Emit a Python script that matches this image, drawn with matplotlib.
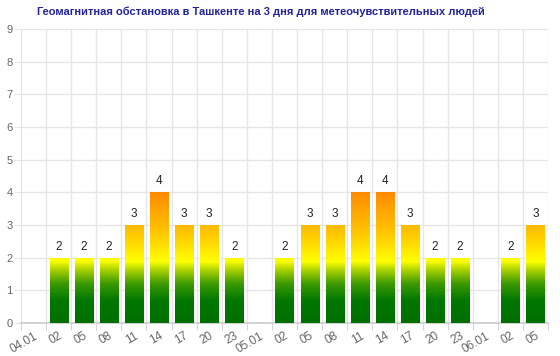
import matplotlib
matplotlib.use("Agg")
import matplotlib.pyplot as plt
import numpy as np
from matplotlib.colors import LinearSegmentedColormap, Normalize
from matplotlib.patches import Rectangle

labels = ["04.01", "02", "05", "08", "11", "14", "17", "20", "23",
          "05.01", "02", "05", "08", "11", "14", "17", "20", "23",
          "06.01", "02", "05"]
values = [None, 2, 2, 2, 3, 4, 3, 3, 2,
          None, 2, 3, 3, 4, 4, 3, 2, 2,
          None, 2, 3]
title = "Геомагнитная обстановка в Ташкенте на 3 дня для метеочувствительных людей"

plt.rcParams['font.family'] = ['Liberation Sans', 'DejaVu Sans']

fig = plt.figure(figsize=(5.6, 3.56), dpi=100)
ax = fig.add_axes([0.0375, 0.0927, 0.9411, 0.8258])

n = len(labels)
ax.set_xlim(-0.5, n - 0.5)
ax.set_ylim(0, 9)

stops = [(0.0, "#006f00"), (0.17, "#007800"), (0.30, "#3d9a00"),
         (0.40, "#a6d000"), (0.47, "#ffff00"), (0.70, "#ffc400"), (1.0, "#ff8a00")]
cmap = LinearSegmentedColormap.from_list("geo", stops)
norm = Normalize(0, 4)

grad = np.linspace(0, 4, 256).reshape(-1, 1)
bw = 0.72
for i, v in enumerate(values):
    if v is None:
        continue
    x0 = i - bw / 2
    rect = Rectangle((x0, 0), bw, v, facecolor="none", edgecolor="none", zorder=3)
    ax.add_patch(rect)
    im = ax.imshow(grad, cmap=cmap, norm=norm, origin="lower", aspect="auto",
                   extent=[x0, x0 + bw, 0, 4], zorder=3, interpolation="bilinear")
    im.set_clip_path(rect)
    ax.text(i, v + 0.15, str(v), ha="center", va="bottom", fontsize=8.5,
            color="#222222", zorder=4)

ax.set_xlim(-0.5, n - 0.5)
ax.set_ylim(0, 9)

ax.set_yticks(range(0, 10))
ax.tick_params(axis="y", length=5, color="#e6e6e6", labelsize=8, labelcolor="#666666", pad=1)
ax.grid(axis="y", color="#e6e6e6", linewidth=1, zorder=0)

ax.set_xticks(range(n))
ax.set_xticklabels(labels, rotation=30, ha="right", rotation_mode="anchor",
                   fontsize=8.5, color="#666666")
ax.tick_params(axis="x", length=0, pad=5)
ax.set_xticks(np.arange(-0.5, n, 1), minor=True)
ax.tick_params(axis="x", which="minor", length=5, color="#cccccc")
ax.grid(axis="x", which="minor", color="#e6e6e6", linewidth=1, zorder=0)
ax.set_axisbelow(True)

for s in ["top", "right", "left"]:
    ax.spines[s].set_visible(False)
ax.spines["bottom"].set_color("#cccccc")
ax.spines["bottom"].set_linewidth(1.2)

fig.text(0.465, 0.967, title, ha="center", va="center", fontsize=8,
         fontweight="bold", color="#24249a")

fig.savefig("out.png", dpi=100)
